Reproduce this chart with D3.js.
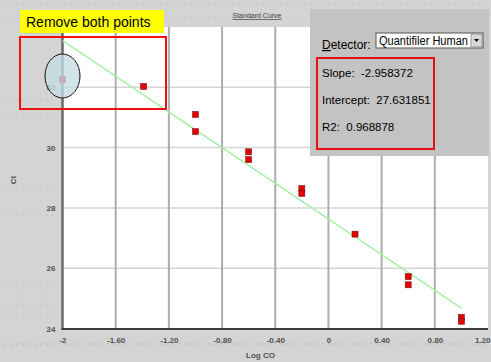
<!DOCTYPE html>
<html>
<head>
<meta charset="utf-8">
<script src="https://cdn.jsdelivr.net/npm/d3@7"></script>
<style>
  body { margin: 0; background: #d4d4d4; }
  svg { display: block; font-family: Arial, "Liberation Sans", sans-serif; }
  .tick text { font-size: 8px; fill: #505050; font-weight: bold; }
  .stat { white-space: pre; }
</style>
</head>
<body>
<div id="container"></div>
<script>
// standard curve samples (log CO vs Ct)
var logCO = [-2, -1.39, -1, -1, -0.6, -0.6, -0.2, -0.2, 0.2, 0.6, 0.6, 1, 1];
var ct = [32.26, 32.03, 31.1, 30.53, 29.86, 29.6, 28.64, 28.48, 27.13, 25.72, 25.45, 24.37, 24.24];

var xTicks = [-2, -1.6, -1.2, -0.8, -0.4, 0, 0.4, 0.8, 1.2];
var xTickLabels = ['-2', '-1.60', '-1.20', '-0.80', '-0.40', '0', '0.40', '0.80', '1.20'];
var yTicks = [24, 26, 28, 30, 32];
var yTickLabels = ['24', '26', '28', '30', '32'];

var slope = -2.958372;
var intercept = 27.631851;
var r2 = 0.968878;
var fitRange = [-2, 1];

var width = 491, height = 362;

var svg = d3.select('#container')
	.append('svg')
	.attr('width', width)
	.attr('height', height);

svg.append('rect')
	.attr('width', width)
	.attr('height', height)
	.style('fill', '#d4d4d4');

// faint dotted texture in the margins, like the screenshot
var dotRows = [4, 17, 100, 118, 190, 215, 282, 296, 305, 318, 346];
svg.selectAll('.dots')
	.data(dotRows)
	.enter()
	.append('line')
	.attr('x1', 4)
	.attr('x2', function(d){ return d < 27 ? 486 : 56; })
	.attr('y1', function(d){ return d; })
	.attr('y2', function(d){ return d; })
	.style('stroke', '#b8b8b8')
	.style('stroke-dasharray', '1,5');

svg.append('line')
	.attr('x1', 4).attr('x2', 488)
	.attr('y1', 344).attr('y2', 344)
	.style('stroke', '#bcbcbc')
	.style('stroke-dasharray', '3,3');

var x = d3.scaleLinear()
	.domain([-2, 1.2])
	.range([62.5, 488]);

var y = d3.scaleLinear()
	.domain([24, 34])
	.range([328.5, 27]);

// plot area
svg.append('rect')
	.attr('x', x(-2))
	.attr('y', y(34))
	.attr('width', x(1.2) - x(-2))
	.attr('height', y(24) - y(34))
	.style('fill', '#ffffff');

svg.selectAll('.hgrid')
	.data(yTicks.slice(1))
	.enter()
	.append('line')
	.attr('class', 'hgrid')
	.attr('x1', x(-2)).attr('x2', x(1.2))
	.attr('y1', function(d){ return y(d); })
	.attr('y2', function(d){ return y(d); })
	.style('stroke', '#d6d6d6')
	.style('stroke-width', 1.5);

svg.selectAll('.vgrid')
	.data(xTicks.slice(1, -1))
	.enter()
	.append('line')
	.attr('class', 'vgrid')
	.attr('x1', function(d){ return x(d); })
	.attr('x2', function(d){ return x(d); })
	.attr('y1', y(34)).attr('y2', y(24))
	.style('stroke', '#adadad')
	.style('stroke-width', 2);

// axes lines
svg.append('line')
	.attr('x1', x(-2)).attr('x2', x(-2))
	.attr('y1', y(34)).attr('y2', y(24) + 1)
	.style('stroke', '#6a6a6a')
	.style('stroke-width', 2.5);

svg.append('line')
	.attr('x1', x(-2) - 1).attr('x2', x(1.2))
	.attr('y1', y(24) + 0.5).attr('y2', y(24) + 0.5)
	.style('stroke', '#3c3c3c')
	.style('stroke-width', 2);

var xAxis = svg.append('g')
	.attr('transform', 'translate(0,' + (y(24) + 6) + ')')
	.call(d3.axisBottom(x)
		.tickValues(xTicks)
		.tickSize(0)
		.tickFormat(function(d, i){ return xTickLabels[i]; }));
xAxis.select('.domain').remove();
// last label sits against the window edge
xAxis.selectAll('.tick text')
	.filter(function(d){ return d === xTicks[xTicks.length - 1]; })
	.attr('text-anchor', 'end')
	.attr('x', 2);

var yAxis = svg.append('g')
	.attr('transform', 'translate(' + (x(-2) - 4) + ',0)')
	.call(d3.axisLeft(y)
		.tickValues(yTicks)
		.tickSize(0)
		.tickFormat(function(d, i){ return yTickLabels[i]; }));
yAxis.select('.domain').remove();

svg.append('text')
	.attr('x', 246)
	.attr('y', 358)
	.style('font-size', '8px')
	.style('font-weight', 'bold')
	.style('fill', '#505050')
	.text('Log CO');

svg.append('text')
	.attr('transform', 'translate(16,180) rotate(-90)')
	.attr('text-anchor', 'middle')
	.style('font-size', '8px')
	.style('font-weight', 'bold')
	.style('fill', '#505050')
	.text('Ct');

svg.append('text')
	.attr('x', 257)
	.attr('y', 18)
	.attr('text-anchor', 'middle')
	.style('font-size', '7px')
	.style('fill', '#404040')
	.style('text-decoration', 'underline')
	.text('Standard Curve');

// regression line
svg.append('line')
	.attr('x1', x(fitRange[0]))
	.attr('y1', y(slope * fitRange[0] + intercept))
	.attr('x2', x(fitRange[1]))
	.attr('y2', y(slope * fitRange[1] + intercept))
	.style('stroke', '#a6f0a6')
	.style('stroke-width', 1.5);

var points = logCO.map(function(d, i){ return {x: d, y: ct[i]}; });

svg.selectAll('.pt')
	.data(points)
	.enter()
	.append('rect')
	.attr('class', 'pt')
	.attr('x', function(d){ return x(d.x) - 3; })
	.attr('y', function(d){ return y(d.y) - 3; })
	.attr('width', 6)
	.attr('height', 6)
	.style('fill', '#e40000')
	.style('stroke', '#7a2020')
	.style('stroke-width', 0.6);

// annotation ellipse over the first point
svg.append('ellipse')
	.attr('cx', x(-2))
	.attr('cy', 76)
	.attr('rx', 17.5)
	.attr('ry', 22)
	.style('fill', '#c4dde4')
	.style('fill-opacity', 0.78)
	.style('stroke', '#111')
	.style('stroke-width', 1);

svg.append('rect')
	.attr('x', 20).attr('y', 37)
	.attr('width', 146).attr('height', 72)
	.style('fill', 'none')
	.style('stroke', '#ee1111')
	.style('stroke-width', 2);

svg.append('rect')
	.attr('x', 20).attr('y', 10)
	.attr('width', 144).attr('height', 23)
	.style('fill', '#ffff00');

svg.append('text')
	.attr('x', 26).attr('y', 27)
	.style('font-size', '14px')
	.style('fill', '#000')
	.text('Remove both points');

// detector panel
svg.append('rect')
	.attr('x', 310).attr('y', 9)
	.attr('width', 179).attr('height', 147)
	.style('fill', '#c3c3c3');

var det = svg.append('text')
	.attr('x', 322).attr('y', 49)
	.style('font-size', '12px')
	.style('fill', '#000');
det.append('tspan').style('text-decoration', 'underline').text('D');
det.append('tspan').text('etector:');

svg.append('rect')
	.attr('x', 376).attr('y', 33)
	.attr('width', 107).attr('height', 15)
	.style('fill', '#fff')
	.style('stroke', '#555')
	.style('stroke-width', 1);

svg.append('text')
	.attr('x', 379).attr('y', 45)
	.attr('textLength', 89)
	.attr('lengthAdjust', 'spacingAndGlyphs')
	.style('font-size', '12px')
	.style('fill', '#000')
	.text('Quantifiler Human');

svg.append('rect')
	.attr('x', 471).attr('y', 34)
	.attr('width', 11).attr('height', 13)
	.style('fill', '#d8d8d8')
	.style('stroke', '#888')
	.style('stroke-width', 0.8);

svg.append('path')
	.attr('d', 'M474,39 L479,39 L476.5,42 Z')
	.style('fill', '#000');

svg.append('rect')
	.attr('x', 317).attr('y', 58)
	.attr('width', 117).attr('height', 91)
	.style('fill', 'none')
	.style('stroke', '#e81010')
	.style('stroke-width', 2);

var stats = [
	'Slope:  ' + slope.toFixed(6),
	'Intercept:  ' + intercept.toFixed(6),
	'R2:  ' + r2.toFixed(6)
];

svg.selectAll('.stat')
	.data(stats)
	.enter()
	.append('text')
	.attr('class', 'stat')
	.attr('x', 322)
	.attr('y', function(d, i){ return 77 + i * 27; })
	.style('font-size', '11.5px')
	.style('fill', '#000')
	.text(function(d){ return d; });
</script>
</body>
</html>
